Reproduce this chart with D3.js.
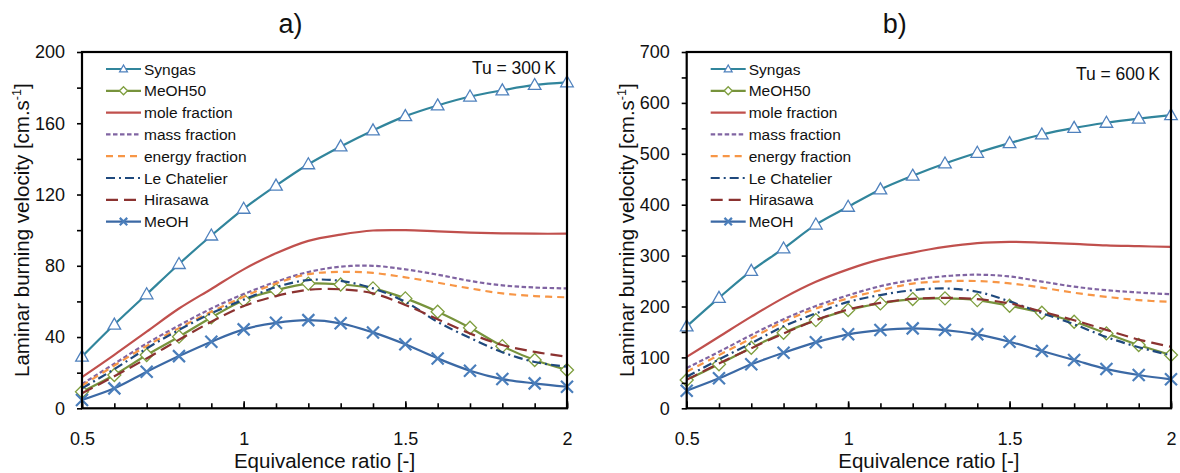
<!DOCTYPE html>
<html>
<head>
<meta charset="utf-8">
<script src="https://cdn.jsdelivr.net/npm/d3@7"></script>
<style>
  body { margin: 0; background: #fff; }
  svg { display: block; }
  text { font-family: Arial, "Liberation Sans", sans-serif; fill: #111; }
</style>
</head>
<body>
<svg id="chart" width="1180" height="473"></svg>
<script>
// Equivalence ratio sampled every 0.1
const phi = [0.5, 0.6, 0.7, 0.8, 0.9, 1.0, 1.1, 1.2, 1.3, 1.4, 1.5, 1.6, 1.7, 1.8, 1.9, 2.0];

const seriesNames = ["Syngas", "MeOH50", "mole fraction", "mass fraction",
                     "energy fraction", "Le Chatelier", "Hirasawa", "MeOH"];

// Laminar burning velocity [cm/s], Tu = 300 K
const syngas300  = [29, 47, 64, 81, 97, 112, 125, 137, 147, 156, 164, 170, 175, 178.5, 181.5, 183];
const meoh50_300 = [9.3, 18.7, 29.9, 40.2, 51, 60.7, 66.3, 70, 69.5, 67.3, 61.7, 54.2, 45.2, 34.9, 27.1, 21.5];
const mole300    = [17.5, 30, 43, 56, 67, 78, 87, 94, 97.5, 99.8, 100, 99.3, 98.6, 98.2, 98, 98];
const mass300    = [13.6, 25, 36.4, 46.5, 56, 64.1, 71, 76.5, 79.5, 80, 78, 75, 71.5, 69, 67.8, 67.3];
const energy300  = [12.7, 24, 35, 45, 54.2, 62.6, 70.1, 75.3, 76.6, 76, 73.5, 70.5, 67.3, 64.5, 63, 62.3];
const leChat300  = [11.2, 22, 33.6, 44, 53.3, 61, 68, 72, 71.5, 67.3, 59.8, 48.5, 39.5, 31.5, 26, 23.3];
const hirasawa300 = [8.4, 18, 28, 38.5, 48.6, 57.4, 63, 66.5, 66.8, 64.5, 58, 50, 42, 35.5, 31.7, 28.9];
const meoh300    = [4.7, 11.2, 20.5, 29.3, 37.4, 44.3, 48, 49.5, 47.7, 42.6, 35.9, 28, 21.1, 16.4, 14, 12.1];

// Laminar burning velocity [cm/s], Tu = 600 K
const syngas600  = [161, 217, 270, 314, 361, 396, 430, 457, 481, 502, 521, 538, 551, 561, 569, 576];
const meoh50_600 = [55.6, 86.4, 119, 148.4, 173.3, 193, 206.1, 214.6, 216, 212.6, 201.4, 187.7, 170, 147.2, 124.3, 104.6];
const mole600    = [101, 140.5, 180, 217, 248.5, 273, 292.5, 306, 317, 324.5, 327, 325.5, 323, 320, 318.5, 317];
const mass600    = [79, 111, 144, 175, 201, 222, 240, 252, 259.5, 262.5, 259, 249, 239, 232, 227.5, 224];
const energy600  = [72, 104.5, 137.5, 170, 196, 216, 232, 245, 249.5, 250, 245.5, 237, 227, 219, 212.5, 209];
const leChat600  = [62, 96, 128, 161, 186.5, 209, 222.5, 232, 235.5, 229, 210, 187, 165, 140, 120, 104];
const hirasawa600 = [56, 88, 118, 147, 173, 194, 207, 215, 217, 214.5, 206, 190, 173, 154, 135, 121];
const meoh600    = [34.6, 58.9, 86.4, 109.2, 129.6, 145.3, 153.7, 157, 153.7, 145.3, 130.8, 112.5, 94.8, 77.1, 65.4, 56.9];

// Axis ticks
const xTickLabels = [0.5, 1, 1.5, 2];
const yTicks300 = [0, 40, 80, 120, 160, 200];
const yMinor300 = [20, 60, 100, 140, 180];
const yTicks600 = [0, 100, 200, 300, 400, 500, 600, 700];
const yMinor600 = [50, 150, 250, 350, 450, 550, 650];

const panelTitles = ["a)", "b)"];
const tempLabels = ["Tu = 300\u2009K", "Tu = 600\u2009K"];

// Series styling, in drawing order
const styles = [
  { color: "#31859C", dash: null,        marker: "triangle", mcolor: "#4F81BD" },
  { color: "#77933C", dash: null,        marker: "diamond",  mcolor: "#7E9E3E" },
  { color: "#C0504D", dash: null,        marker: null },
  { color: "#8064A2", dash: "4.5,2.5",   marker: null },
  { color: "#F79646", dash: "7,5",       marker: null },
  { color: "#1F497D", dash: "9,4,2,4",   marker: null },
  { color: "#8B3230", dash: "12,6",      marker: null },
  { color: "#3B69A5", dash: null,        marker: "cross",    mcolor: "#4A7EBB" }
];

const panels = [
  { x0: 82,    x1: 567,  y0: 52, y1: 408.3, yMax: 200, yTicks: yTicks300, yMinor: yMinor300,
    series: [syngas300, meoh50_300, mole300, mass300, energy300, leChat300, hirasawa300, meoh300],
    title: panelTitles[0], temp: tempLabels[0], tempY: 73.5 },
  { x0: 686.7, x1: 1171, y0: 52, y1: 408.3, yMax: 700, yTicks: yTicks600, yMinor: yMinor600,
    series: [syngas600, meoh50_600, mole600, mass600, energy600, leChat600, hirasawa600, meoh600],
    title: panelTitles[1], temp: tempLabels[1], tempY: 80 }
];

const svg = d3.select("#chart");

function drawMarker(g, type, color, s) {
  if (type === "triangle") {
    g.append("path")
      .attr("d", `M0,${-6.5*s}L${6.3*s},${4.5*s}L${-6.3*s},${4.5*s}Z`)
      .attr("fill", "#fff").attr("stroke", color).attr("stroke-width", 1.3);
  } else if (type === "diamond") {
    g.append("path")
      .attr("d", `M0,${-6.5*s}L${6.5*s},0L0,${6.5*s}L${-6.5*s},0Z`)
      .attr("fill", "#fff").attr("stroke", color).attr("stroke-width", 1.3);
  } else if (type === "cross") {
    g.append("path")
      .attr("d", `M${-6*s},${-6*s}L${6*s},${6*s}M${-6*s},${6*s}L${6*s},${-6*s}`)
      .attr("fill", "none").attr("stroke", color).attr("stroke-width", 2.2);
  }
}

panels.forEach(p => {
  const x = d3.scaleLinear().domain([0.5, 2]).range([p.x0, p.x1]);
  const y = d3.scaleLinear().domain([0, p.yMax]).range([p.y1, p.y0]);
  const g = svg.append("g");

  // Curves
  const line = d3.line()
    .x((d, i) => x(phi[i]))
    .y(d => y(d))
    .curve(d3.curveCatmullRom.alpha(0.5));

  p.series.forEach((vals, si) => {
    const st = styles[si];
    const sg = g.append("g");
    sg.append("path")
      .datum(vals)
      .attr("d", line)
      .attr("fill", "none")
      .attr("stroke", st.color)
      .attr("stroke-width", 2.2)
      .attr("stroke-dasharray", st.dash);
    if (st.marker) {
      vals.forEach((v, i) => {
        const m = sg.append("g").attr("transform", `translate(${x(phi[i])},${y(v)})`);
        drawMarker(m, st.marker, st.mcolor, 1);
      });
    }
  });

  // Minor x ticks (inward)
  g.append("g")
    .attr("transform", `translate(0,${p.y1})`)
    .call(d3.axisBottom(x).tickValues(phi).tickSize(-5).tickFormat(""))
    .call(a => a.select(".domain").remove())
    .call(a => a.selectAll("line").attr("stroke", "#000").attr("stroke-width", 1.6));

  // Major x ticks and labels
  g.append("g")
    .attr("transform", `translate(0,${p.y1})`)
    .call(d3.axisBottom(x).tickValues(xTickLabels).tickSize(-7).tickPadding(24)
      .tickFormat(d => String(d)))
    .call(a => a.select(".domain").remove())
    .call(a => a.selectAll("line").attr("stroke", "#000").attr("stroke-width", 1.6))
    .call(a => a.selectAll("text").attr("font-size", 18).attr("fill", "#111")
      .attr("font-family", "Arial, 'Liberation Sans', sans-serif"));

  // Minor y ticks (outward)
  g.append("g")
    .attr("transform", `translate(${p.x0},0)`)
    .call(d3.axisLeft(y).tickValues(p.yMinor).tickSize(5).tickFormat(""))
    .call(a => a.select(".domain").remove())
    .call(a => a.selectAll("line").attr("stroke", "#000").attr("stroke-width", 1.6));

  // Major y ticks and labels
  g.append("g")
    .attr("transform", `translate(${p.x0},0)`)
    .call(d3.axisLeft(y).tickValues(p.yTicks).tickSize(5).tickPadding(12))
    .call(a => a.select(".domain").remove())
    .call(a => a.selectAll("line").attr("stroke", "#000").attr("stroke-width", 1.6))
    .call(a => a.selectAll("text").attr("font-size", 18).attr("fill", "#111")
      .attr("font-family", "Arial, 'Liberation Sans', sans-serif"));

  // Plot frame
  g.append("rect")
    .attr("x", p.x0).attr("y", p.y0)
    .attr("width", p.x1 - p.x0).attr("height", p.y1 - p.y0)
    .attr("fill", "none").attr("stroke", "#000").attr("stroke-width", 2.2);

  // Axis titles
  const cx = (p.x0 + p.x1) / 2;
  g.append("text")
    .attr("x", cx).attr("y", 468)
    .attr("text-anchor", "middle").attr("font-size", 20.5)
    .text("Equivalence ratio [-]");

  const yt = g.append("text")
    .attr("transform", `translate(${p.x0 - 53},${(p.y0 + p.y1) / 2}) rotate(-90)`)
    .attr("text-anchor", "middle").attr("font-size", 20.5);
  yt.append("tspan").text("Laminar burning velocity [cm.s");
  yt.append("tspan").attr("dy", -8).attr("font-size", 12.5).text("-1");
  yt.append("tspan").attr("dy", 8).text("]");

  // Panel label
  g.append("text")
    .attr("x", cx - 34).attr("y", 33)
    .attr("text-anchor", "middle")
    .attr("font-family", "'Liberation Serif', 'Times New Roman', serif")
    .attr("font-size", 27)
    .text(p.title);

  // Temperature annotation
  g.append("text")
    .attr("x", p.x1 - 11).attr("y", p.tempY)
    .attr("text-anchor", "end").attr("font-size", 17.5)
    .text(p.temp);

  // Legend
  const lg = g.append("g");
  const lx0 = p.x0 + 24, lx1 = p.x0 + 59;
  seriesNames.forEach((name, i) => {
    const st = styles[i];
    const ly = 69 + i * 21.8;
    lg.append("line")
      .attr("x1", lx0).attr("x2", lx1).attr("y1", ly).attr("y2", ly)
      .attr("stroke", st.color).attr("stroke-width", 2.2)
      .attr("stroke-dasharray", st.dash);
    if (st.marker) {
      const m = lg.append("g").attr("transform", `translate(${(lx0 + lx1) / 2},${ly})`);
      drawMarker(m, st.marker, st.mcolor, 0.62);
    }
    lg.append("text")
      .attr("x", lx1 + 3).attr("y", ly).attr("dy", "0.36em")
      .attr("font-size", 15.5)
      .text(name);
  });
});
</script>
</body>
</html>
